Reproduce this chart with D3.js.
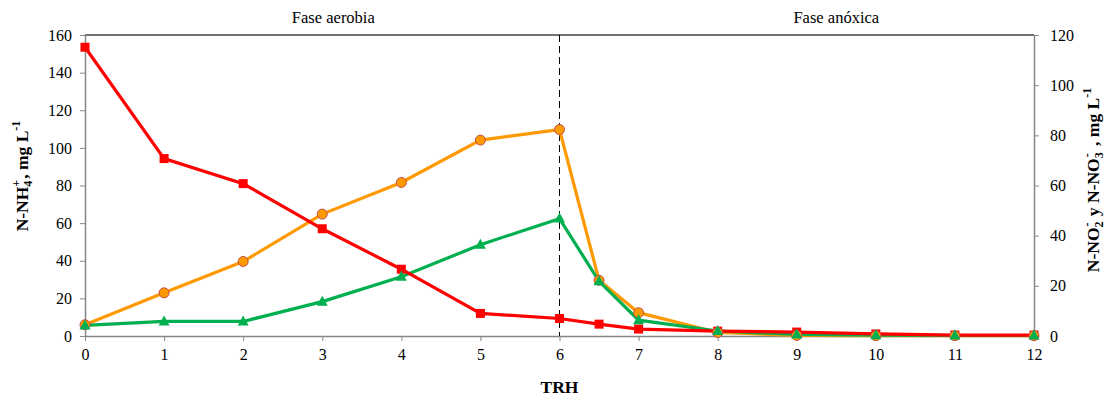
<!DOCTYPE html>
<html><head><meta charset="utf-8">
<script src="https://cdn.jsdelivr.net/npm/d3@7"></script>
<style>
body{margin:0;background:#fff;}
</style></head>
<body><svg id="c" width="1106" height="399"></svg>
<script>
const xValues = [0,1,2,3,4,5,6,6.5,7,8,9,10,11,12];
const nh4 = [153.5,94.3,81,57,35.5,12,9.3,6.3,3.7,2.6,2.1,1.1,0.5,0.5];
const no2 = [4.5,17.2,29.7,48.6,61.2,78.1,82.3,22.2,9.3,1.4,0.2,0.1,0.1,0.1];
const no3 = [4.2,5.8,5.8,13.7,23.6,36.4,46.8,21.8,6.3,2,0.6,0.3,0.2,0.2];
const xTicks = [0,1,2,3,4,5,6,7,8,9,10,11,12];
const yLeftTicks = [0,20,40,60,80,100,120,140,160];
const yRightTicks = [0,20,40,60,80,100,120];
const phaseLabels = ["Fase aerobia","Fase anóxica"];
const phaseX = [3.14,9.5];
const divider = 6;

const FONT = '"Liberation Serif","Times New Roman",serif';
const svg = d3.select("#c").attr("font-family",FONT);
const L=85,R=1034,T=35,B=336;
const x = d3.scaleLinear().domain([0,12]).range([L,R]);
const yl = d3.scaleLinear().domain([0,160]).range([B,T]);
const yr = d3.scaleLinear().domain([0,120]).range([B,T]);
const axisCol="#868686";

svg.append("line").attr("x1",L).attr("x2",R).attr("y1",T).attr("y2",T).attr("stroke","#404040").attr("stroke-width",1.5);

function styleAxis(g){
  g.attr("font-family",FONT);
  g.selectAll(".domain").attr("stroke",axisCol).attr("stroke-width",1.5);
  g.selectAll(".tick line").attr("stroke",axisCol).attr("stroke-width",1);
  g.selectAll("text").attr("font-size",16).attr("fill","#000");
}
const gx = svg.append("g").attr("transform",`translate(0,${B})`)
  .call(d3.axisBottom(x).tickValues(xTicks).tickFormat(d3.format("d")).tickSize(5).tickSizeOuter(0).tickPadding(8));
styleAxis(gx);
const gl = svg.append("g").attr("transform",`translate(${L},0)`)
  .call(d3.axisLeft(yl).tickValues(yLeftTicks).tickSize(5).tickSizeOuter(0).tickPadding(8));
styleAxis(gl);
const gr = svg.append("g").attr("transform",`translate(${R},0)`)
  .call(d3.axisRight(yr).tickValues(yRightTicks).tickSize(5).tickSizeOuter(0).tickPadding(11));
styleAxis(gr);

svg.append("line").attr("x1",x(divider)).attr("x2",x(divider)).attr("y1",T).attr("y2",B)
  .attr("stroke","#000").attr("stroke-width",1).attr("stroke-dasharray","7,4");

svg.selectAll(".ph").data(phaseLabels).enter().append("text")
  .attr("x",(d,i)=>x(phaseX[i])).attr("y",23).attr("text-anchor","middle").attr("font-size",16.5).text(d=>d);

function series(vals, scale, color){
  const pts = xValues.map((v,i)=>[x(v),scale(vals[i])]);
  svg.append("path").attr("d",d3.line()(pts)).attr("fill","none").attr("stroke",color).attr("stroke-width",3.2);
  return pts;
}
const pO = series(no2, yr, "#FF9900");
const pG = series(no3, yr, "#00B050");
const pR = series(nh4, yl, "#FF0000");

svg.selectAll(".sq").data(pR).enter().append("rect")
  .attr("x",d=>d[0]-4.5).attr("y",d=>d[1]-4.5).attr("width",9).attr("height",9).attr("fill","#FF0000");
svg.selectAll(".ci").data(pO).enter().append("circle")
  .attr("cx",d=>d[0]).attr("cy",d=>d[1]).attr("r",5).attr("fill","#FF9900").attr("stroke","#C0504D").attr("stroke-width",1);
svg.selectAll(".tr").data(pG).enter().append("path")
  .attr("d",d=>`M${d[0]},${d[1]-6}L${d[0]+5.5},${d[1]+4}L${d[0]-5.5},${d[1]+4}Z`).attr("fill","#00B050");

svg.append("text").attr("x",x(6)).attr("y",393).attr("text-anchor","middle").attr("font-size",17.5).attr("font-weight","bold").text("TRH");

function richLabel(tx,ty,parts){
  const t = svg.append("text").attr("transform",`translate(${tx},${ty}) rotate(-90)`).attr("text-anchor","middle")
    .attr("font-size",17.5).attr("font-weight","bold");
  let state=0;
  parts.forEach(p=>{
    const [s,type]=p;
    let target = type==="sub"?4: type==="sup"?-8 : 0;
    const sp = t.append("tspan").attr("dy",target-state).text(s);
    state=target;
    if(type!=="n") sp.attr("font-size",12);
    if(p[2]) sp.attr("dx",p[2]);
  });
  if(state!==0) t.append("tspan").attr("dy",-state).text("");
}
richLabel(28,176,[["N-NH","n"],["4","sub"],["+","sup",-6],[", mg L","n",1],["-1","sup"]]);
richLabel(1099,180,[["N-NO","n"],["2","sub"],["-","sup",-5],[" y N-NO","n",2],["3","sub"],["-","sup",-5],[" , mg L","n",3],["-1","sup"]]);
</script></body></html>
